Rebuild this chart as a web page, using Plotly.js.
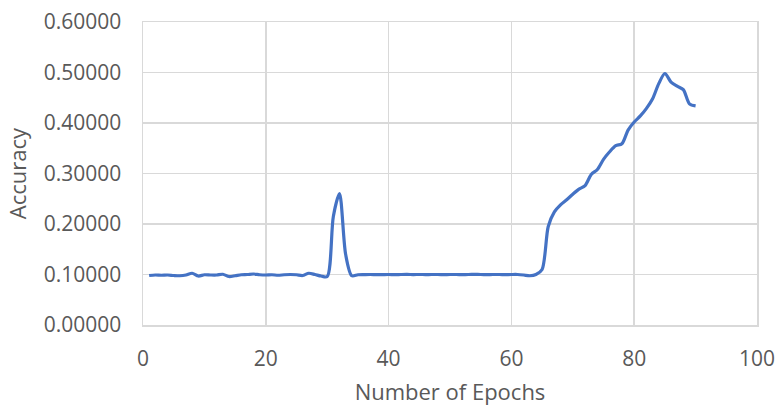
<!DOCTYPE html>
<html>
<head>
<meta charset="utf-8">
<script src="https://cdn.plot.ly/plotly-3.0.1.min.js"></script>
<style>
  html, body { margin: 0; padding: 0; background: #ffffff; }
  #chart { width: 776px; height: 409px; }
</style>
</head>
<body>
<div id="chart"></div>
<script>
// Accuracy per training epoch (epochs 1..90)
const epochs = Array.from({length: 90}, (_, i) => i + 1);

const accuracy = [
  0.0980, 0.0990, 0.0985, 0.0990, 0.0980, 0.0975, 0.0990, 0.1025, 0.0970, 0.0995,
  0.0990, 0.0990, 0.1005, 0.0960, 0.0975, 0.0995, 0.1000, 0.1010, 0.0995, 0.0990,
  0.0995, 0.0985, 0.0995, 0.1000, 0.0995, 0.0980, 0.1025, 0.1000, 0.0970, 0.0960,
  0.2150, 0.2600, 0.1400, 0.0975, 0.0995, 0.0998, 0.1000, 0.0998, 0.0999, 0.1000,
  0.0998, 0.1000, 0.1001, 0.0999, 0.1000, 0.0999, 0.1000, 0.1000, 0.0999, 0.1000,
  0.1000, 0.0999, 0.1000, 0.1001, 0.1000, 0.0999, 0.1000, 0.1000, 0.0999, 0.1000,
  0.1000, 0.0990, 0.0975, 0.1000, 0.1100, 0.1950, 0.2240, 0.2380, 0.2480, 0.2590,
  0.2690, 0.2760, 0.2980, 0.3080, 0.3280, 0.3430, 0.3550, 0.3590, 0.3860, 0.4020,
  0.4140, 0.4290, 0.4480, 0.4780, 0.4980, 0.4810, 0.4730, 0.4660, 0.4380, 0.4340
];

const xTickVals = [0, 20, 40, 60, 80, 100];
const yTickVals = [0, 0.1, 0.2, 0.3, 0.4, 0.5, 0.6];

const textColor = '#595959';
const gridColor = '#d9d9d9';
const fontFamily = '"Open Sans", "Liberation Sans", Arial, sans-serif';

const trace = {
  x: epochs,
  y: accuracy,
  type: 'scatter',
  mode: 'lines',
  line: { color: '#4472C4', width: 3.2, shape: 'spline', smoothing: 0.8 },
  hoverinfo: 'x+y'
};

const layout = {
  width: 776,
  height: 409,
  margin: { l: 143, r: 19, t: 22, b: 84 },
  paper_bgcolor: '#ffffff',
  plot_bgcolor: '#ffffff',
  showlegend: false,
  font: { family: fontFamily, color: textColor },
  xaxis: {
    range: [0, 100],
    tickvals: xTickVals,
    tickfont: { size: 21, color: textColor },
    showgrid: true,
    gridcolor: gridColor,
    gridwidth: 1.5,
    zeroline: false,
    showline: true,
    mirror: true,
    linecolor: gridColor,
    linewidth: 1.5,
    ticks: '',
    ticklabelstandoff: 14,
    title: { text: 'Number of Epochs', font: { size: 22, color: textColor }, standoff: 14 }
  },
  yaxis: {
    range: [0, 0.6],
    tickvals: yTickVals,
    tickformat: '.5f',
    tickfont: { size: 21, color: textColor },
    showgrid: true,
    gridcolor: gridColor,
    gridwidth: 1.5,
    zeroline: false,
    showline: true,
    mirror: true,
    linecolor: gridColor,
    linewidth: 1.5,
    ticks: '',
    ticklabelstandoff: 16,
    title: { text: 'Accuracy', font: { size: 22, color: textColor }, standoff: 11 }
  }
};

Plotly.newPlot('chart', [trace], layout, { staticPlot: true, displayModeBar: false });
</script>
</body>
</html>
